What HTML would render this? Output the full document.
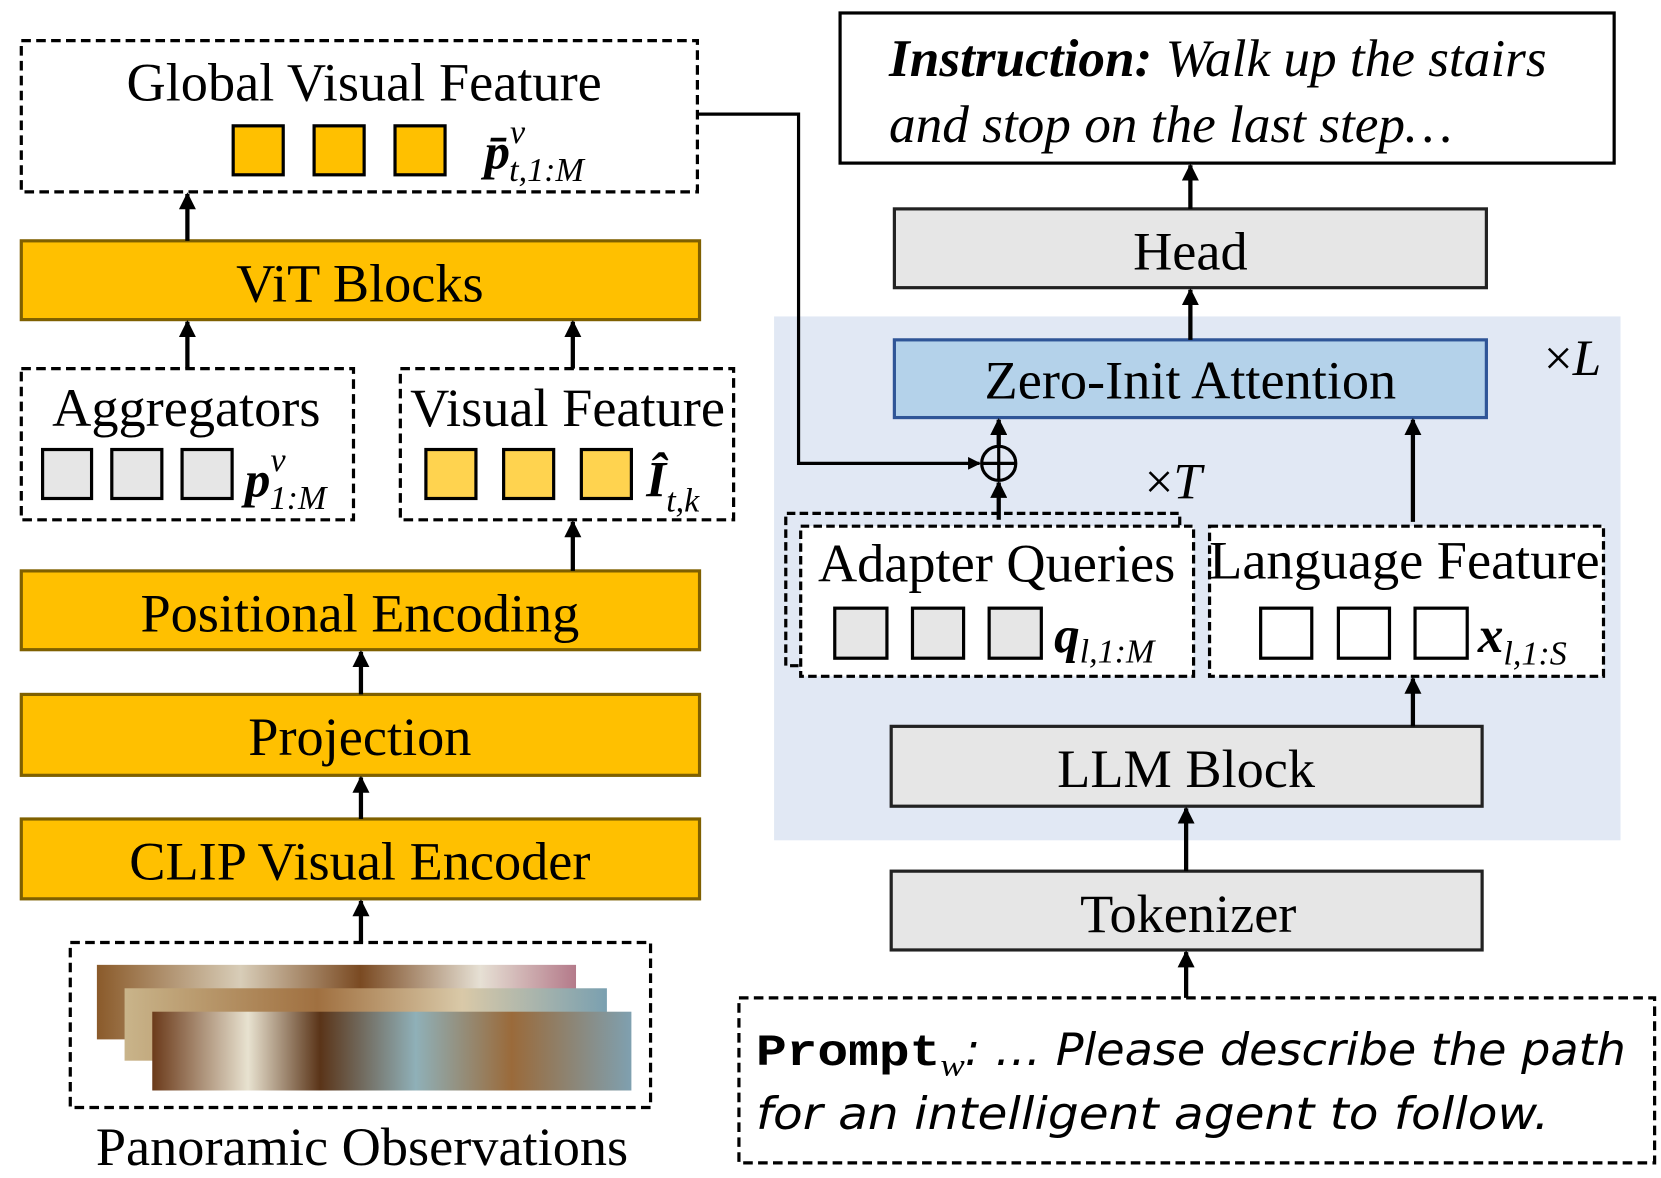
<!DOCTYPE html>
<html><head><meta charset="utf-8"><style>html,body{margin:0;padding:0;background:#fff}svg{display:block}</style></head><body>
<svg width="1661" height="1178" viewBox="0 0 1560 1106" xmlns="http://www.w3.org/2000/svg" font-family="Liberation Serif, serif">
<defs>
<marker id="a" viewBox="0 0 10 10" refX="9" refY="5" markerWidth="4" markerHeight="4" orient="auto-start-reverse" markerUnits="strokeWidth"><path d="M0,0L10,5L0,10z" fill="#000"/></marker>
<linearGradient id="g1" x1="0" x2="1"><stop offset="0" stop-color="#8a5a2a"/><stop offset=".3" stop-color="#d8cdb8"/><stop offset=".55" stop-color="#7a4a22"/><stop offset=".8" stop-color="#e6e0d4"/><stop offset="1" stop-color="#b47a8a"/></linearGradient>
<linearGradient id="g2" x1="0" x2="1"><stop offset="0" stop-color="#c9b48a"/><stop offset=".4" stop-color="#a07040"/><stop offset=".7" stop-color="#d9c9a8"/><stop offset="1" stop-color="#7aa0b0"/></linearGradient>
<linearGradient id="g3" x1="0" x2="1"><stop offset="0" stop-color="#6b3a1a"/><stop offset=".2" stop-color="#e8e2d0"/><stop offset=".35" stop-color="#5a3418"/><stop offset=".55" stop-color="#8fb0b8"/><stop offset=".75" stop-color="#9a6a3a"/><stop offset="1" stop-color="#7fa0b0"/></linearGradient>
</defs>
<g stroke="#000" stroke-width="3" fill="none">
<rect x="727" y="297" width="795" height="492" fill="#E1E8F4" stroke="none"/>
<rect x="20" y="38" width="635" height="142" fill="#fff" stroke-dasharray="9,5"/>
<rect x="20" y="226" width="637" height="74" fill="#FFC000" stroke="#7F6000"/>
<rect x="20" y="346" width="312" height="142" fill="#fff" stroke-dasharray="9,5"/>
<rect x="376" y="346" width="313" height="142" fill="#fff" stroke-dasharray="9,5"/>
<rect x="20" y="536" width="637" height="74" fill="#FFC000" stroke="#7F6000"/>
<rect x="20" y="652" width="637" height="76" fill="#FFC000" stroke="#7F6000"/>
<rect x="20" y="769" width="637" height="75" fill="#FFC000" stroke="#7F6000"/>
<rect x="66" y="885" width="545" height="155" fill="#fff" stroke-dasharray="9,5"/>
<g fill="#FFC000"><rect x="219" y="118" width="47" height="46"/><rect x="295" y="118" width="47" height="46"/><rect x="371" y="118" width="47" height="46"/></g>
<g fill="#E6E6E6"><rect x="40" y="422" width="46" height="46"/><rect x="105" y="422" width="47" height="46"/><rect x="171" y="422" width="47" height="46"/></g>
<g fill="#FFD34F"><rect x="400" y="422" width="47" height="46"/><rect x="473" y="422" width="47" height="46"/><rect x="546" y="422" width="47" height="46"/></g>
<rect x="91" y="906" width="450" height="70" fill="url(#g1)" stroke="none"/>
<rect x="117" y="928" width="453" height="68" fill="url(#g2)" stroke="none"/>
<rect x="143" y="950" width="450" height="74" fill="url(#g3)" stroke="none"/>
<g marker-end="url(#a)" stroke-width="4">
<line x1="176" y1="226" x2="176" y2="182"/><line x1="176" y1="346" x2="176" y2="302"/><line x1="538" y1="346" x2="538" y2="302"/><line x1="538" y1="536" x2="538" y2="490"/><line x1="339" y1="652" x2="339" y2="612"/><line x1="339" y1="769" x2="339" y2="730"/><line x1="339" y1="885" x2="339" y2="846"/>
</g>
<polyline points="655,107 750,107 750,435 920,435" marker-end="url(#a)"/>
<circle cx="938" cy="435" r="16" fill="none"/>
<line x1="922" y1="435" x2="954" y2="435"/><line x1="938" y1="419" x2="938" y2="451"/>
<rect x="789" y="12" width="727" height="141" fill="#fff"/>
<rect x="840" y="196" width="556" height="74" fill="#E6E6E6" stroke="#222"/>
<rect x="840" y="319" width="556" height="73" fill="#B4D2EA" stroke="#2F5597"/>
<path d="M750,625 L738,625 L738,482 L1108,482 L1108,494" fill="none" stroke-dasharray="8,4"/>
<rect x="752" y="494" width="369" height="141" fill="#fff" stroke-dasharray="8,4"/>
<rect x="1136" y="494" width="370" height="141" fill="#fff" stroke-dasharray="8,4"/>
<g fill="#E6E6E6"><rect x="784" y="571" width="49" height="47"/><rect x="857" y="571" width="48" height="47"/><rect x="929" y="571" width="49" height="47"/></g>
<g fill="#fff"><rect x="1184" y="571" width="48" height="47"/><rect x="1257" y="571" width="48" height="47"/><rect x="1329" y="571" width="49" height="47"/></g>
<rect x="837" y="682" width="555" height="75" fill="#E6E6E6" stroke="#222"/>
<rect x="837" y="818" width="555" height="74" fill="#E6E6E6" stroke="#222"/>
<rect x="694" y="937" width="860" height="155" fill="#fff" stroke-dasharray="9,5"/>
<g marker-end="url(#a)" stroke-width="4">
<line x1="1118" y1="196" x2="1118" y2="155"/><line x1="1118" y1="319" x2="1118" y2="272"/>
<line x1="938" y1="419" x2="938" y2="394"/><line x1="938" y1="488" x2="938" y2="453"/>
<line x1="1327" y1="490" x2="1327" y2="394"/><line x1="1327" y1="682" x2="1327" y2="637"/>
<line x1="1114" y1="818" x2="1114" y2="759"/><line x1="1114" y1="937" x2="1114" y2="894"/>
</g>
</g>
<g font-size="51" fill="#000" text-anchor="middle">
<text x="342" y="94">Global Visual Feature</text>
<text x="338" y="283">ViT Blocks</text>
<text x="175" y="400">Aggregators</text>
<text x="533" y="400">Visual Feature</text>
<text x="338" y="593">Positional Encoding</text>
<text x="338" y="709">Projection</text>
<text x="338" y="826">CLIP Visual Encoder</text>
<text x="340" y="1094">Panoramic Observations</text>
<text x="1118" y="253">Head</text>
<text x="1118" y="374">Zero-Init Attention</text>
<text x="936" y="546">Adapter Queries</text>
<text x="1319" y="543">Language Feature</text>
<text x="1114" y="739">LLM Block</text>
<text x="1116" y="875">Tokenizer</text>
</g>
<g font-size="48" fill="#000" font-style="italic">
<text x="1450" y="352" font-style="normal">×<tspan font-style="italic">L</tspan></text>
<text x="1075" y="468" font-style="normal">×<tspan font-style="italic">T</tspan></text>
<text x="455" y="158" font-weight="bold">p̄<tspan font-size="32" dy="-24" font-weight="normal">v</tspan><tspan font-size="32" dx="-15" dy="36" font-weight="normal">t,1:M</tspan></text>
<text x="230" y="466" font-weight="bold">p<tspan font-size="32" dy="-24" font-weight="normal">v</tspan><tspan font-size="32" dx="-15" dy="36" font-weight="normal">1:M</tspan></text>
<text x="607" y="466" font-weight="bold">Î<tspan font-size="32" dy="14" font-weight="normal">t,k</tspan></text>
<text x="990" y="612" font-weight="bold">q<tspan font-size="32" dy="10" font-weight="normal">l,1:M</tspan></text>
<text x="1388" y="612" font-weight="bold">x<tspan font-size="32" dy="12" font-weight="normal">l,1:S</tspan></text>
</g>
<g font-size="50" fill="#000" font-style="italic">
<text x="835" y="71"><tspan font-weight="bold">Instruction:</tspan> Walk up the stairs</text>
<text x="835" y="133">and stop on the last step…</text>
</g>
<g font-size="42" fill="#000">
<text x="710" y="1000" textLength="817" lengthAdjust="spacingAndGlyphs"><tspan font-family="Liberation Mono, monospace" font-weight="bold">Prompt</tspan><tspan font-size="30" dy="10" font-style="italic">w</tspan><tspan dy="-10" font-family="DejaVu Sans Condensed, sans-serif" font-style="italic">: … Please describe the path</tspan></text>
<text x="710" y="1060" font-family="DejaVu Sans Condensed, sans-serif" font-style="italic" textLength="745" lengthAdjust="spacingAndGlyphs">for an intelligent agent to follow.</text>
</g>
</svg>
</body></html>
